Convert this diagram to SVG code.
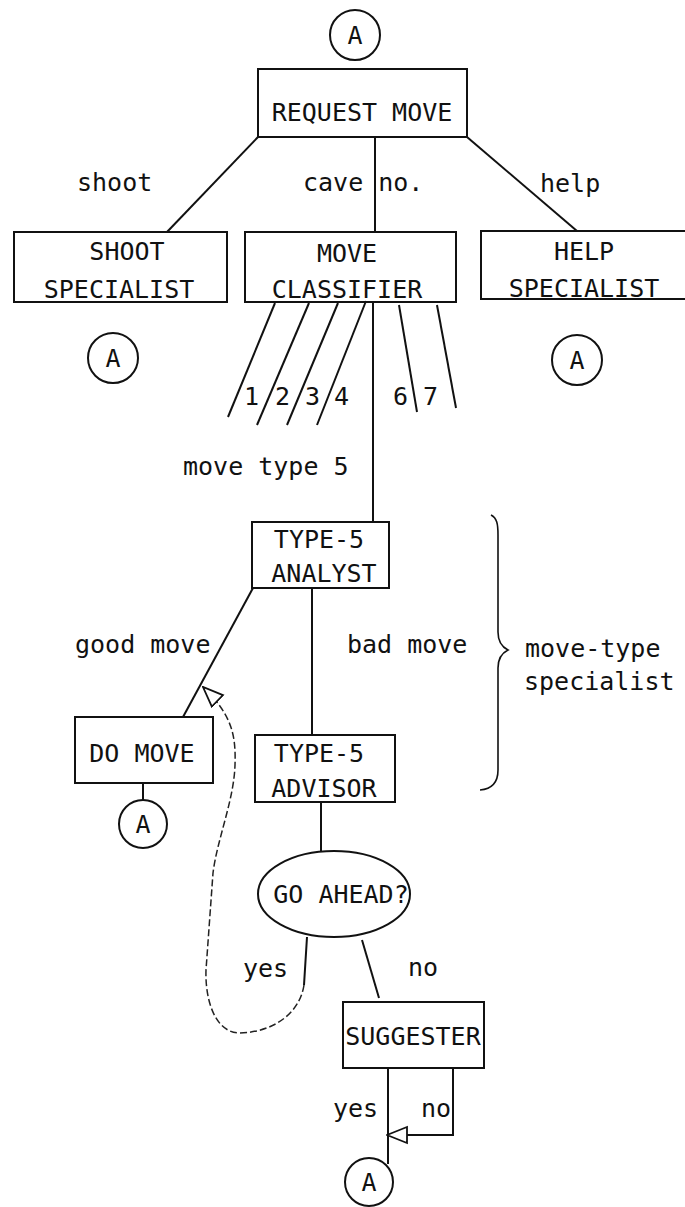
<svg xmlns="http://www.w3.org/2000/svg" width="685" height="1207" viewBox="0 0 685 1207">
<style>
.box{fill:none;stroke:#111;stroke-width:2}
.ln{fill:none;stroke:#111;stroke-width:2}
.dash{fill:none;stroke:#222;stroke-width:1.5;stroke-dasharray:7 3}
.t{font-family:"DejaVu Sans Mono","Liberation Mono",monospace;font-size:25px;fill:#111}
.c{text-anchor:middle}
.circ{fill:none;stroke:#111;stroke-width:2}
</style>
<defs>
<marker id="tri" viewBox="0 0 22 20" refX="21" refY="10" markerWidth="22" markerHeight="20" markerUnits="userSpaceOnUse" orient="auto">
<path d="M1,2 L21,10 L1,18 Z" fill="#fff" stroke="#111" stroke-width="1.8"/>
</marker>
</defs>
<rect width="685" height="1207" fill="#fff"/>

<g id="connectors">
<line class="ln" x1="258" y1="137" x2="167" y2="232"/>
<line class="ln" x1="375" y1="137" x2="375" y2="232"/>
<line class="ln" x1="467" y1="137" x2="577" y2="231"/>
<line class="ln" x1="275" y1="303" x2="228" y2="417"/>
<line class="ln" x1="309" y1="303" x2="257" y2="425"/>
<line class="ln" x1="338" y1="303" x2="287" y2="425"/>
<line class="ln" x1="366" y1="301" x2="317" y2="425"/>
<line class="ln" x1="399" y1="305" x2="417" y2="412"/>
<line class="ln" x1="437" y1="305" x2="456" y2="408"/>
<line class="ln" x1="373" y1="302" x2="373" y2="522"/>
<line class="ln" x1="253" y1="588" x2="183" y2="717"/>
<line class="ln" x1="312" y1="588" x2="312" y2="735"/>
<line class="ln" x1="143" y1="783" x2="143" y2="800"/>
<line class="ln" x1="321" y1="802" x2="321" y2="851"/>
<path class="ln" d="M307,937 C306,955 305,970 304,985"/>
<path class="dash" d="M304,985 C300,1012 275,1032 240,1033 C215,1033 205,1000 206,970 L213,873 C217,840 234,800 235,765 C236,735 232,715 203,687" marker-end="url(#tri)"/>
<line class="ln" x1="362" y1="940" x2="379" y2="998"/>
<line class="ln" x1="388" y1="1068" x2="388" y2="1164"/>
<path class="ln" d="M453,1068 L453,1135 L387,1135" marker-end="url(#tri)"/>
<path fill="none" stroke="#111" stroke-width="1.6" d="M491,515 C497,518 498,524 498,535 L498,632 C498,642 502,647 508,650 C502,653 498,658 498,668 L498,770 C498,782 492,789 480,790"/>
</g>

<g id="labels">
<text class="t" x="77" y="191">shoot</text>
<text class="t" x="303" y="191">cave no.</text>
<text class="t" x="540" y="192">help</text>
<text class="t" x="244" y="405">1</text>
<text class="t" x="275" y="405">2</text>
<text class="t" x="305" y="405">3</text>
<text class="t" x="334" y="405">4</text>
<text class="t" x="393" y="405">6</text>
<text class="t" x="423" y="405">7</text>
<text class="t" x="183" y="475">move type 5</text>
<text class="t" x="75" y="653">good move</text>
<text class="t" x="347" y="653">bad move</text>
<text class="t" x="525" y="657">move-type</text>
<text class="t" x="524" y="690">specialist</text>
<text class="t" x="243" y="977">yes</text>
<text class="t" x="408" y="976">no</text>
<text class="t" x="333" y="1117">yes</text>
<text class="t" x="421" y="1117">no</text>
</g>

<g id="a-top"><circle class="circ" cx="355" cy="35" r="25"/><text class="t c" x="355" y="44">A</text></g>
<g id="request-move"><rect class="box" x="258" y="69" width="209" height="68"/><text class="t c" x="362" y="121">REQUEST MOVE</text></g>
<g id="shoot-specialist"><rect class="box" x="14" y="232" width="213" height="70"/><text class="t c" x="127" y="260">SHOOT</text><text class="t c" x="119" y="298">SPECIALIST</text></g>
<g id="move-classifier"><rect class="box" x="245" y="232" width="211" height="70"/><text class="t c" x="347" y="262">MOVE</text><text class="t c" x="347" y="298">CLASSIFIER</text></g>
<g id="help-specialist"><rect class="box" x="481" y="231" width="240" height="68"/><text class="t c" x="584" y="260">HELP</text><text class="t c" x="584" y="297">SPECIALIST</text></g>
<g id="a-shoot"><circle class="circ" cx="113" cy="358" r="25"/><text class="t c" x="113" y="367">A</text></g>
<g id="a-help"><circle class="circ" cx="577" cy="360" r="25"/><text class="t c" x="577" y="369">A</text></g>
<g id="type5-analyst"><rect class="box" x="252" y="522" width="137" height="66"/><text class="t c" x="319" y="548">TYPE-5</text><text class="t c" x="324" y="582">ANALYST</text></g>
<g id="do-move"><rect class="box" x="75" y="717" width="138" height="66"/><text class="t c" x="142" y="762">DO MOVE</text></g>
<g id="a-domove"><circle class="circ" cx="143" cy="824" r="24"/><text class="t c" x="143" y="833">A</text></g>
<g id="type5-advisor"><rect class="box" x="255" y="735" width="140" height="67"/><text class="t c" x="319" y="762">TYPE-5</text><text class="t c" x="324" y="797">ADVISOR</text></g>
<g id="go-ahead"><ellipse class="box" cx="334" cy="894" rx="76" ry="43"/><text class="t c" x="341" y="903">GO AHEAD?</text></g>
<g id="suggester"><rect class="box" x="343" y="1002" width="141" height="66"/><text class="t c" x="413" y="1045">SUGGESTER</text></g>
<g id="a-bottom"><circle class="circ" cx="369" cy="1182" r="24"/><text class="t c" x="369" y="1191">A</text></g>
</svg>
